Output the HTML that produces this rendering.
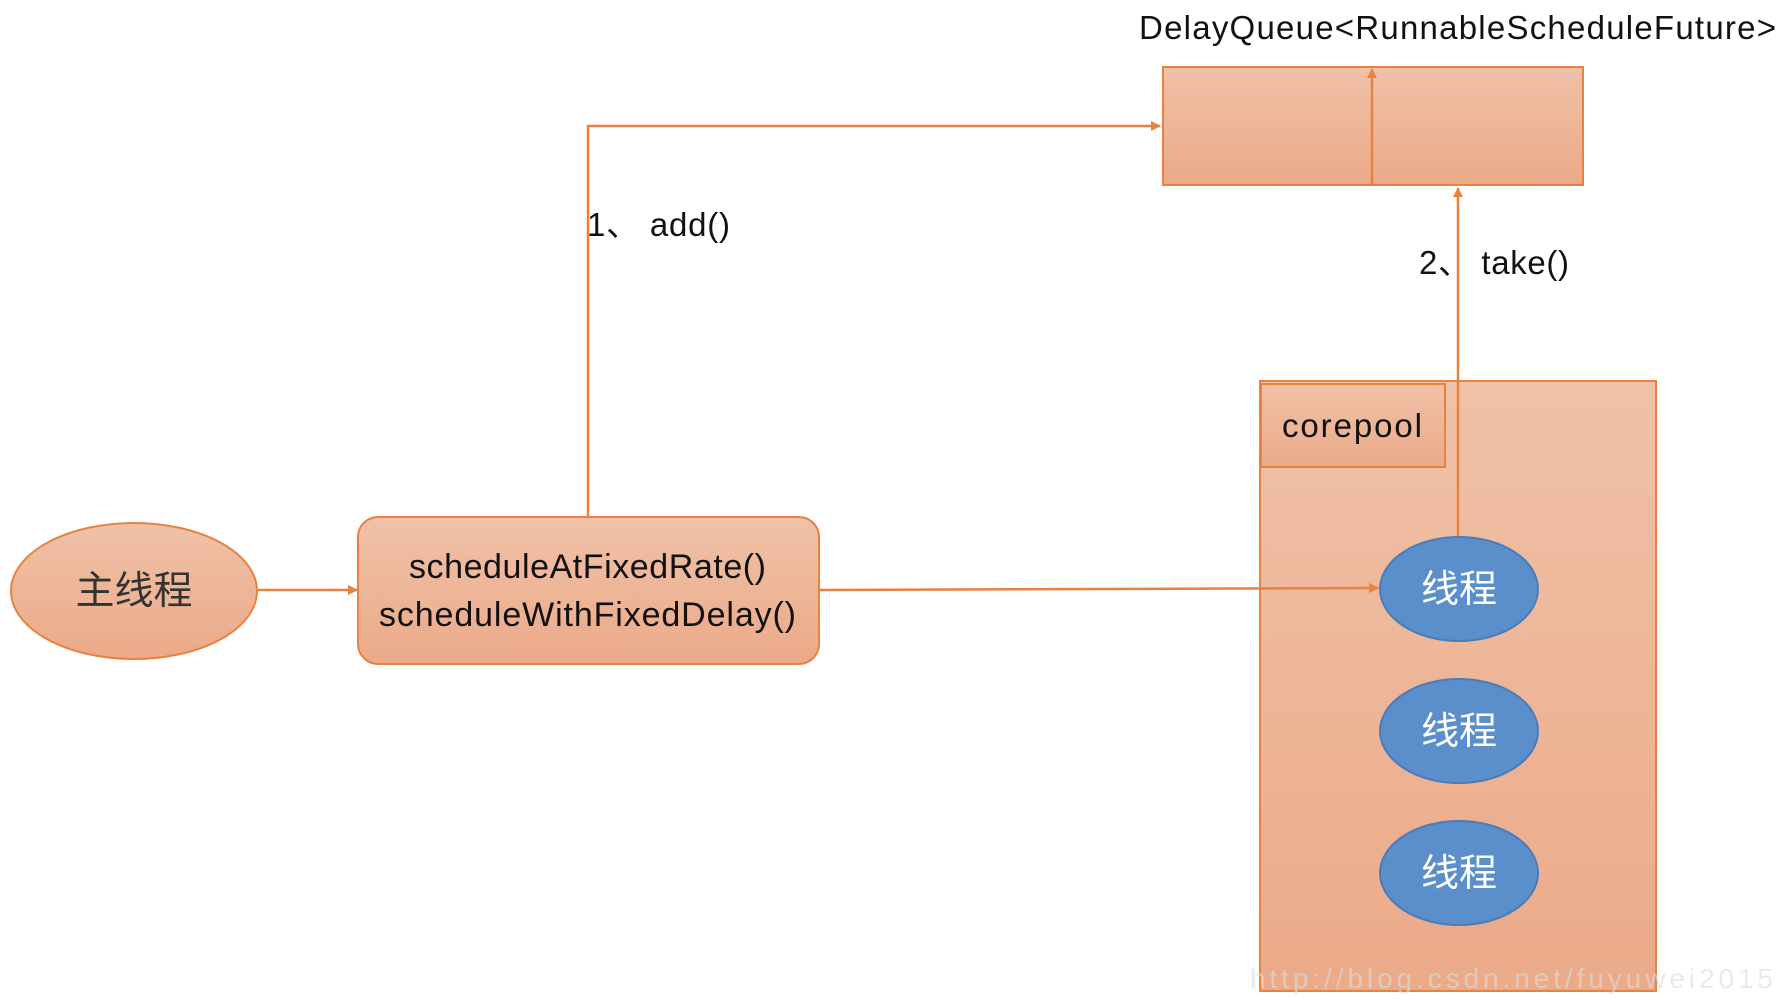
<!DOCTYPE html>
<html><head><meta charset="utf-8"><style>
html,body{margin:0;padding:0;background:#fff;width:1790px;height:1000px;overflow:hidden}
svg text{font-family:"Liberation Sans","Noto Sans CJK SC",sans-serif}
</style></head><body>
<svg width="1790" height="1000" xmlns="http://www.w3.org/2000/svg">
<defs>
<linearGradient id="g" x1="0" y1="0" x2="0" y2="1"><stop offset="0" stop-color="#F0C1A8"/><stop offset="1" stop-color="#EBAA88"/></linearGradient>
<marker id="a" markerWidth="10" markerHeight="10" refX="9" refY="5" orient="auto" markerUnits="userSpaceOnUse"><path d="M0,0 L10,5 L0,10 z" fill="#E8823F"/></marker>
</defs>
<text x="1139" y="39" font-size="33" fill="#111" textLength="637">DelayQueue&lt;RunnableScheduleFuture&gt;</text>
<rect x="1163" y="67" width="420" height="118" fill="url(#g)" stroke="#E8823F" stroke-width="2"/>
<line x1="1372" y1="185" x2="1372" y2="69" stroke="#E8823F" stroke-width="2.5" marker-end="url(#a)"/>
<rect x="1260" y="381" width="396" height="610" fill="url(#g)" stroke="#E8823F" stroke-width="2"/>
<rect x="1261" y="384" width="184" height="83" fill="url(#g)" stroke="#E8823F" stroke-width="2"/>
<text x="1282" y="437" font-size="33" fill="#111" textLength="140">corepool</text>
<line x1="1458" y1="537" x2="1458" y2="188" stroke="#E8823F" stroke-width="2.5" marker-end="url(#a)"/>
<text x="1419" y="274" font-size="33" fill="#111" textLength="150">2、 take()</text>
<polyline points="588,517 588,126 1160,126" fill="none" stroke="#E8823F" stroke-width="2.5" marker-end="url(#a)"/>
<text x="587" y="236" font-size="33" fill="#111" textLength="143">1、 add()</text>
<ellipse cx="134" cy="591" rx="123" ry="68" fill="url(#g)" stroke="#E8823F" stroke-width="2"/>
<text x="134" y="604" font-size="39" fill="#333" text-anchor="middle">主线程</text>
<line x1="258" y1="590" x2="357" y2="590" stroke="#E8823F" stroke-width="2.5" marker-end="url(#a)"/>
<rect x="358" y="517" width="461" height="147" rx="20" fill="url(#g)" stroke="#E8823F" stroke-width="2"/>
<text x="409" y="578" font-size="34" fill="#111" textLength="357">scheduleAtFixedRate()</text>
<text x="379" y="626" font-size="34" fill="#111" textLength="417">scheduleWithFixedDelay()</text>
<line x1="820" y1="590" x2="1378" y2="588" stroke="#E8823F" stroke-width="2.5" marker-end="url(#a)"/>
<g fill="#5B8FCC" stroke="#4A7CB8" stroke-width="2">
<ellipse cx="1459" cy="589" rx="79" ry="52"/>
<ellipse cx="1459" cy="731" rx="79" ry="52"/>
<ellipse cx="1459" cy="873" rx="79" ry="52"/>
</g>
<g font-size="38" fill="#fff" text-anchor="middle">
<text x="1459" y="602">线程</text>
<text x="1459" y="744">线程</text>
<text x="1459" y="886">线程</text>
</g>
<text x="1250" y="988" font-size="28" fill="#ddd" font-family="Liberation Serif,serif" opacity="0.6" textLength="523">http://blog.csdn.net/fuyuwei2015</text>
</svg>
</body></html>
